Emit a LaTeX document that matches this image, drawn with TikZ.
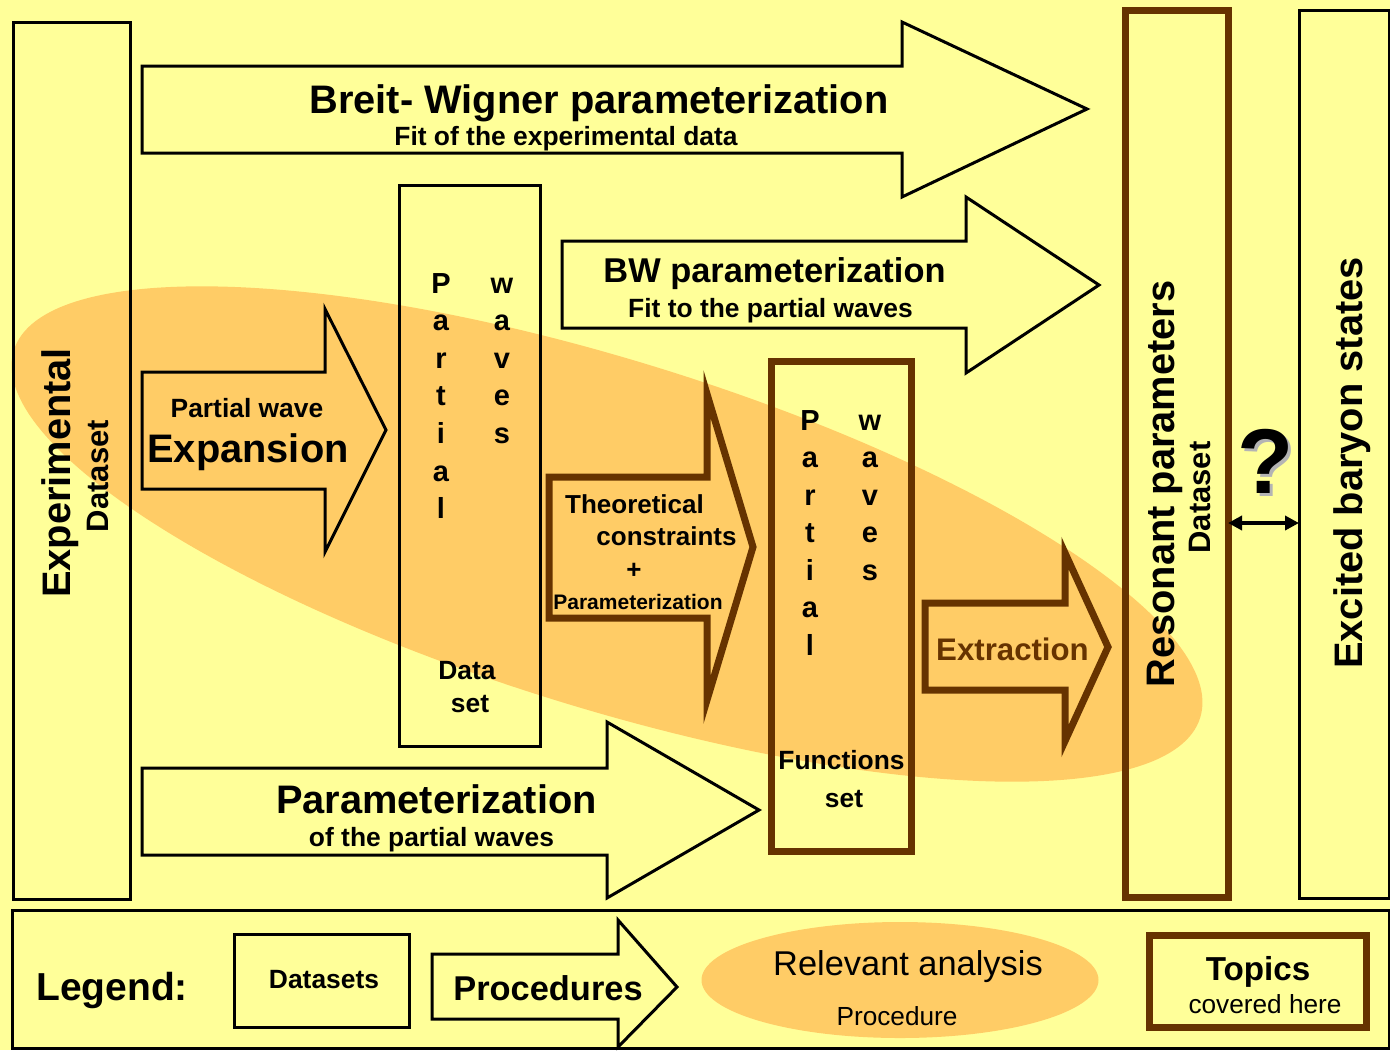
\documentclass[tikz,border=0pt]{standalone}
\usepackage{fontspec}
\setmainfont{Liberation Sans}
\usetikzlibrary{shapes.geometric,arrows.meta}
\definecolor{bgyel}{HTML}{FFFF99}
\definecolor{orng}{HTML}{FFCC66}
\definecolor{brwn}{HTML}{663300}
\definecolor{shad}{HTML}{B4B4B4}
\newcommand{\myfs}[1]{\fontsize{#1}{#1}\selectfont}
\begin{document}
\begin{tikzpicture}[x=0.5pt,y=-0.5pt,
  blk/.style={draw=black, line width=1.5pt, line join=miter},
  brn/.style={draw=brwn, line width=3.5pt, line join=miter},
  box/.style={rectangle, inner sep=0pt, outer sep=0pt},
  txt/.style={inner sep=0pt, anchor=base, align=center},
  big/.style={txt, font=\bfseries\myfs{19.9pt}},
  mid/.style={txt, font=\bfseries\myfs{13.2pt}},
  ltr/.style={txt, font=\bfseries\myfs{14.5pt}},
  ]
\useasboundingbox (0,0) rectangle (1390,1050);
\fill[bgyel] (0,0) rectangle (1390,1050);
% relevant analysis ellipse
\node[ellipse, fill=orng, inner sep=0pt, minimum width=621pt, minimum height=174pt, rotate=-17.2] (relevant) at (607,534) {};
% dataset boxes
\node[box, blk, minimum width=58.5pt, minimum height=438.5pt] (exp) at (71.5,460.5) {};
\node[box, blk, minimum width=70.5pt, minimum height=280.5pt] (pw) at (469.5,465.5) {};
\node[box, brn, minimum width=70pt, minimum height=245pt] (fun) at (841,606) {};
\node[box, brn, minimum width=51.5pt, minimum height=443.5pt] (res) at (1176.5,453.5) {};
\node[box, blk, minimum width=45pt, minimum height=444pt] (exc) at (1344,454) {};
% procedure arrows
\draw[blk] (142,66) -- (902,66) -- (902,22) -- (1087,109) -- (902,197) -- (902,153) -- (142,153) -- cycle;
\draw[blk] (562,241) -- (966,241) -- (966,197) -- (1099,285) -- (966,373) -- (966,328) -- (562,328) -- cycle;
\draw[blk] (142,372) -- (325,372) -- (325,309) -- (386,430) -- (325,552) -- (325,489) -- (142,489) -- cycle;
\draw[brn] (549,477) -- (707,477) -- (707,394) -- (753,547) -- (707,700) -- (707,618) -- (549,618) -- cycle;
\draw[brn] (925,603) -- (1065,603) -- (1065,553) -- (1108,647) -- (1065,741) -- (1065,690) -- (925,690) -- cycle;
\draw[blk] (142,768) -- (607,768) -- (607,722) -- (759,810) -- (607,898) -- (607,855) -- (142,855) -- cycle;
% texts
\node[big] (bwt) at (599,113) {Breit- Wigner parameterization};
\node[mid] (bws) at (566,145) {Fit of the experimental data};
\node[txt, font=\bfseries\myfs{17.2pt}] (bpt) at (774.5,282) {BW parameterization};
\node[mid] (bps) at (770.5,317) {Fit to the partial waves};
\node[mid] (pwe1) at (247,417) {Partial wave};
\node[big] (pwe2) at (248,462) {Expansion};
\node[txt, font=\bfseries\myfs{13pt}] (th1) at (634.5,513) {Theoretical};
\node[txt, font=\bfseries\myfs{13pt}] (th2) at (666.5,545) {constraints};
\node[txt, font=\bfseries\myfs{13pt}] (th3) at (634,578) {+};
\node[txt, font=\bfseries\myfs{10.5pt}] (th4) at (638,609) {Parameterization};
\node[txt, font=\bfseries\myfs{15.6pt}, text=brwn] (ext) at (1012.5,660) {Extraction};
\node[big] (par1) at (436.5,813) {Parameterization};
\node[mid] (par2) at (431.5,846) {of the partial waves};
% partial waves letters
\foreach \l [count=\i] in {P,a,r,t,i,a,l}{
  \node[ltr] (pa\i) at (441,{293+(\i-1)*37.6}) {\l};
  \node[ltr] (pb\i) at (810,{430+(\i-1)*37.5}) {\l};
}
\foreach \l [count=\i] in {w,a,v,e,s}{
  \node[ltr] (wa\i) at (502,{293+(\i-1)*37.6}) {\l};
  \node[ltr] (wb\i) at (870,{430+(\i-1)*37.5}) {\l};
}
\node[mid] (ds1) at (467,679) {Data};
\node[mid] (ds2) at (470,712) {set};
\node[mid] (fs1) at (841.5,769) {Functions};
\node[mid] (fs2) at (844,807) {set};
% rotated labels
\node[big, rotate=90] (expt) at (70,473) {Experimental};
\node[txt, rotate=90, font=\bfseries\myfs{15.5pt}] (expd) at (108,476) {Dataset};
\node[big, rotate=90] (rest) at (1174,484) {Resonant parameters};
\node[txt, rotate=90, font=\bfseries\myfs{15.5pt}] (resd) at (1210,497.5) {Dataset};
\node[big, rotate=90] (exct) at (1362,463) {Excited baryon states};
% question mark and link
\node[txt, font=\bfseries\myfs{46pt}, text=shad] (qs) at (1269,496) {?};
\node[txt, font=\bfseries\myfs{46pt}] (qm) at (1266,493) {?};
\coordinate (qy) at (0,523);
\draw[line width=2pt, {Triangle[length=7pt,width=7pt]}-{Triangle[length=7pt,width=7pt]}] (res.east |- qy) -- (exc.west |- qy);
% legend
\node[box, blk, minimum width=688.5pt, minimum height=69pt] (leg) at (700.5,979) {};
\node[txt, font=\bfseries\myfs{19.5pt}] (legt) at (112,1000) {Legend:};
\node[box, blk, minimum width=87.5pt, minimum height=46.5pt] (dsleg) at (321.5,980.5) {};
\node[mid] (dslegt) at (324,988) {Datasets};
\draw[blk] (432,954) -- (618,954) -- (618,920) -- (677,987) -- (618,1047) -- (618,1019) -- (432,1019) -- cycle;
\node[txt, font=\bfseries\myfs{17.2pt}] (prleg) at (548,1000) {Procedures};
\node[ellipse, fill=orng, inner sep=0pt, minimum width=198.5pt, minimum height=58pt] (relleg) at (900,980) {};
\node[txt, font=\myfs{17.2pt}] (relt) at (908,975) {Relevant analysis};
\node[txt, font=\myfs{13.1pt}] (relp) at (897,1025) {Procedure};
\node[box, brn, minimum width=108.5pt, minimum height=46pt] (top) at (1257.5,981) {};
\node[txt, font=\bfseries\myfs{16.6pt}] (topt) at (1258,980) {Topics};
\node[txt, font=\myfs{13.1pt}] (topc) at (1265,1013) {covered here};
\end{tikzpicture}
\end{document}
